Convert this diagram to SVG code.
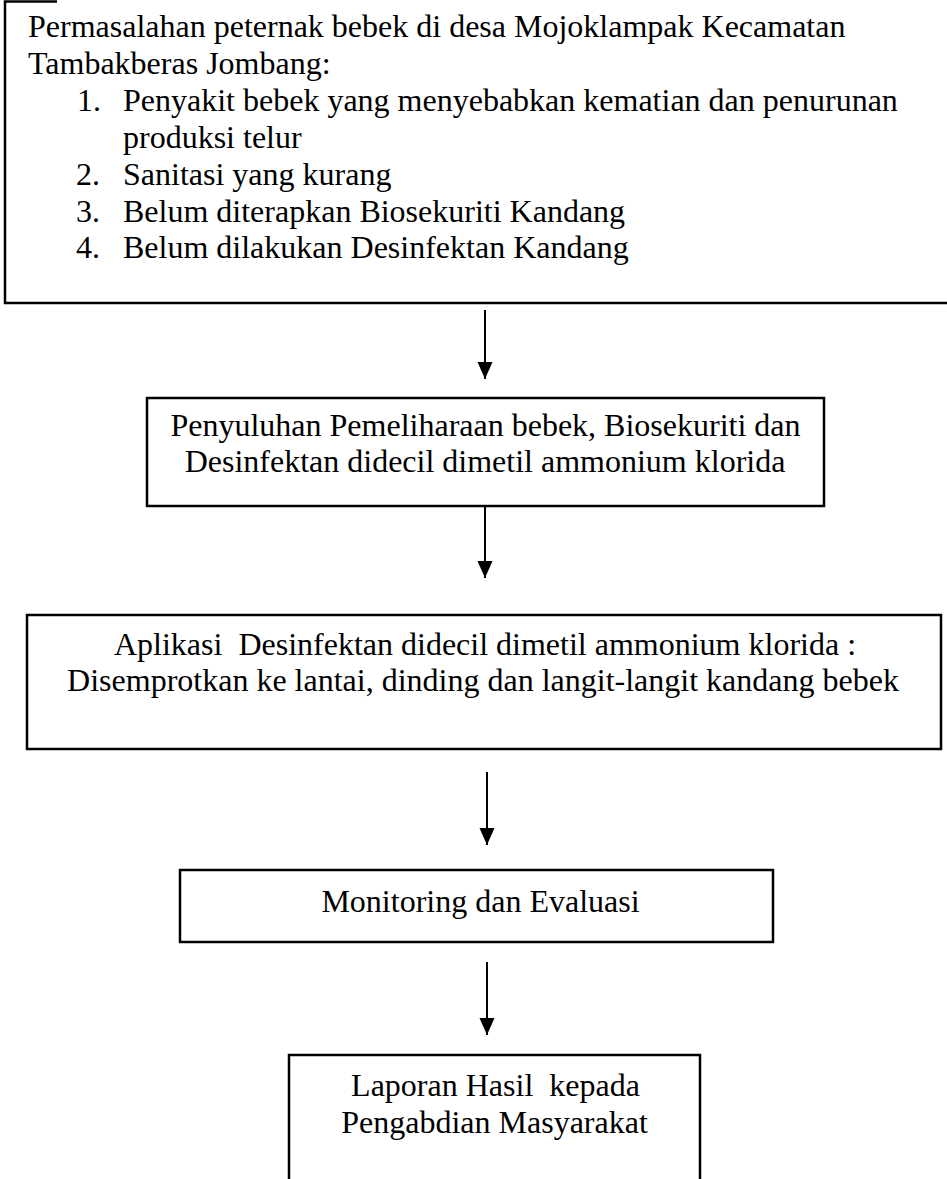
<svg xmlns="http://www.w3.org/2000/svg" width="947" height="1179" viewBox="0 0 947 1179">
<style>
  text { font-family: "Liberation Serif", "Times New Roman", serif; font-size: 32px; fill: #000; white-space: pre; }
  .c { text-anchor: middle; }
  .box { fill: none; stroke: #000; stroke-width: 2.5; }
  .conn line { stroke: #000; stroke-width: 2; }
</style>
<defs>
  <marker id="ah" markerUnits="userSpaceOnUse" markerWidth="18" markerHeight="16" refX="17" refY="8" orient="auto" viewBox="0 0 18 16">
    <path d="M0 0.5 L17 8 L0 15.5 Z" fill="#000"/>
  </marker>
</defs>
<rect width="947" height="1179" fill="#fff"/>

<g id="node-permasalahan">
  <path class="box" d="M57 1.5 H5 V303 H950"/>
  <text x="28" y="37">Permasalahan peternak bebek di desa Mojoklampak Kecamatan</text>
  <text x="28" y="74">Tambakberas Jombang:</text>
  <text x="77" y="111">1.</text><text x="123" y="111">Penyakit bebek yang menyebabkan kematian dan penurunan</text>
  <text x="123" y="148">produksi telur</text>
  <text x="76" y="185">2.</text><text x="123" y="185">Sanitasi yang kurang</text>
  <text x="76" y="222">3.</text><text x="123" y="222">Belum diterapkan Biosekuriti Kandang</text>
  <text x="76" y="258">4.</text><text x="123" y="258">Belum dilakukan Desinfektan Kandang</text>
</g>

<g id="node-penyuluhan">
  <rect class="box" x="147" y="398" width="677" height="108"/>
  <text class="c" x="485.5" y="436">Penyuluhan Pemeliharaan bebek, Biosekuriti dan</text>
  <text class="c" x="485" y="472">Desinfektan didecil dimetil ammonium klorida</text>
</g>

<g id="node-aplikasi">
  <rect class="box" x="27" y="615" width="914" height="134"/>
  <text class="c" x="485" y="655" xml:space="preserve">Aplikasi  Desinfektan didecil dimetil ammonium klorida :</text>
  <text class="c" x="483" y="691">Disemprotkan ke lantai, dinding dan langit-langit kandang bebek</text>
</g>

<g id="node-monitoring">
  <rect class="box" x="180" y="870" width="593" height="72"/>
  <text class="c" x="480.5" y="912">Monitoring dan Evaluasi</text>
</g>

<g id="node-laporan">
  <rect class="box" x="289" y="1055" width="411" height="160"/>
  <text class="c" x="495.5" y="1096" xml:space="preserve">Laporan Hasil  kepada</text>
  <text class="c" x="494.5" y="1133">Pengabdian Masyarakat</text>
</g>

<g id="connectors" class="conn">
  <line x1="485" y1="310" x2="485" y2="379" marker-end="url(#ah)"/>
  <line x1="485" y1="506" x2="485" y2="578" marker-end="url(#ah)"/>
  <line x1="487" y1="772" x2="487" y2="845" marker-end="url(#ah)"/>
  <line x1="487" y1="962" x2="487" y2="1035" marker-end="url(#ah)"/>
</g>
</svg>
